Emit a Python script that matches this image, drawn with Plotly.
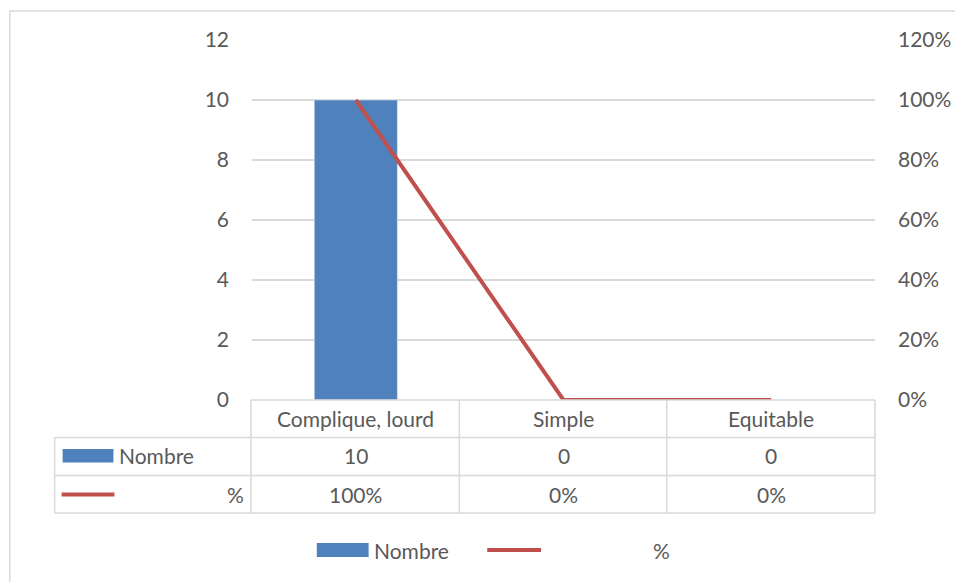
import plotly.graph_objects as go

categories = ["Complique, lourd", "Simple", "Equitable"]
nombre = [10, 0, 0]
pourcent = [1.0, 0.0, 0.0]
nombre_labels = ["10", "0", "0"]
pourcent_labels = ["100%", "0%", "0%"]
left_ticks = [0, 2, 4, 6, 8, 10, 12]
right_ticks = [0, 0.2, 0.4, 0.6, 0.8, 1.0, 1.2]
right_tick_labels = ["0%", "20%", "40%", "60%", "80%", "100%", "120%"]

BLUE = "#4F81BD"
RED = "#C0504D"
TXT = "#595959"
GRID = "#D9D9D9"
FONT = "Lato"
FS = 21

OFF = 8  # page body margin
W, H = 963 - OFF, 582 - OFF
L, R, T, B = 252 - OFF, 877 - OFF, 40 - OFF, 400 - OFF


def xp(px):
    return (px - OFF - L) / (R - L)


def yp(py):
    return (B - (py - OFF)) / (B - T)


fig = go.Figure()
fig.add_trace(go.Bar(x=categories, y=nombre, marker_color=BLUE, name="Nombre",
                     width=0.4, yaxis="y"))
fig.add_trace(go.Scatter(x=categories, y=pourcent, mode="lines", name="%",
                         line=dict(color=RED, width=4), yaxis="y2"))

shapes = []
annotations = []

# outer chart border
shapes.append(dict(type="rect", xref="paper", yref="paper", x0=xp(9), x1=xp(980),
                   y0=yp(600), y1=yp(11), line=dict(color=GRID, width=1.5), layer="below"))

# data table lines
line_style = dict(color=GRID, width=1.5)
rows = [400, 437.5, 475.5, 513]
shapes.append(dict(type="line", xref="paper", yref="paper", x0=xp(251), x1=xp(877),
                   y0=yp(400), y1=yp(400), line=line_style))
for ry in rows[1:]:
    shapes.append(dict(type="line", xref="paper", yref="paper", x0=xp(54), x1=xp(877),
                       y0=yp(ry), y1=yp(ry), line=line_style))
for cx in [251, 460, 668, 877]:
    shapes.append(dict(type="line", xref="paper", yref="paper", x0=xp(cx), x1=xp(cx),
                       y0=yp(400), y1=yp(513), line=line_style))
shapes.append(dict(type="line", xref="paper", yref="paper", x0=xp(54), x1=xp(54),
                   y0=yp(437.5), y1=yp(513), line=line_style))

# table legend keys
shapes.append(dict(type="rect", xref="paper", yref="paper", x0=xp(62), x1=xp(113),
                   y0=yp(462.5), y1=yp(449), fillcolor=BLUE, line=dict(width=0)))
shapes.append(dict(type="line", xref="paper", yref="paper", x0=xp(61), x1=xp(114),
                   y0=yp(494.5), y1=yp(494.5), line=dict(color=RED, width=4)))
annotations.append(dict(xref="paper", yref="paper", x=xp(117), y=yp(456), text="Nombre",
                        xanchor="left", yanchor="middle", showarrow=False))
annotations.append(dict(xref="paper", yref="paper", x=xp(246), y=yp(494), text="%",
                        xanchor="right", yanchor="middle", showarrow=False))

for i, c in enumerate(categories):
    annotations.append(dict(xref="x", yref="paper", x=c, y=yp(418.5), text=c,
                            xanchor="center", yanchor="middle", showarrow=False))
    annotations.append(dict(xref="x", yref="paper", x=c, y=yp(456), text=nombre_labels[i],
                            xanchor="center", yanchor="middle", showarrow=False))
    annotations.append(dict(xref="x", yref="paper", x=c, y=yp(494), text=pourcent_labels[i],
                            xanchor="center", yanchor="middle", showarrow=False))

# bottom legend
shapes.append(dict(type="rect", xref="paper", yref="paper", x0=xp(317), x1=xp(369),
                   y0=yp(557), y1=yp(543), fillcolor=BLUE, line=dict(width=0)))
shapes.append(dict(type="line", xref="paper", yref="paper", x0=xp(488), x1=xp(542),
                   y0=yp(550), y1=yp(550), line=dict(color=RED, width=4)))
annotations.append(dict(xref="paper", yref="paper", x=xp(372), y=yp(550), text="Nombre",
                        xanchor="left", yanchor="middle", showarrow=False))
annotations.append(dict(xref="paper", yref="paper", x=xp(663), y=yp(550), text="%",
                        xanchor="center", yanchor="middle", showarrow=False))

fig.update_layout(
    width=W, height=H,
    margin=dict(l=L, r=W - R, t=T, b=H - B),
    paper_bgcolor="white", plot_bgcolor="white",
    font=dict(family=FONT, size=FS, color=TXT),
    showlegend=False,
    bargap=0.6,
    xaxis=dict(type="category", range=[-0.5, 2.5], showticklabels=False,
               showgrid=False, zeroline=False, showline=False, ticks=""),
    yaxis=dict(range=[0, 12], tickvals=left_ticks, showgrid=True, gridcolor=GRID,
               gridwidth=1.5, zeroline=False, showline=False, ticks="",
               ticklabelstandoff=22, tickfont=dict(size=FS, color=TXT)),
    yaxis2=dict(range=[0, 1.2], tickvals=right_ticks, ticktext=right_tick_labels,
                overlaying="y", side="right", showgrid=False, zeroline=False,
                showline=False, ticks="", ticklabelstandoff=22,
                tickfont=dict(size=FS, color=TXT)),
    shapes=shapes,
    annotations=annotations,
)

fig.write_html("out.html")
